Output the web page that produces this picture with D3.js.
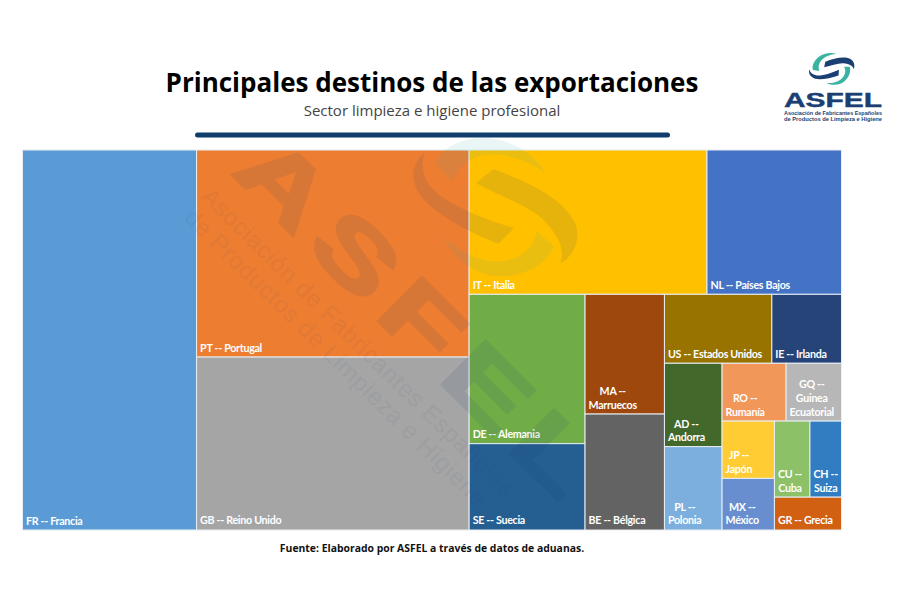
<!DOCTYPE html>
<html lang="es">
<head>
<meta charset="utf-8">
<title>Principales destinos de las exportaciones</title>
<script src="https://cdn.jsdelivr.net/npm/d3@7"></script>
<style>
  html, body { margin: 0; padding: 0; background: #fff; }
  svg { display: block; }
  .title { font: 700 26px "Open Sans", sans-serif; fill: #000; text-anchor: middle; }
  .subtitle { font: 400 15px "Open Sans", sans-serif; fill: #444; text-anchor: middle; }
  .source { font: 700 10.4px "Open Sans", sans-serif; fill: #111; text-anchor: middle; }
  .label { font: 700 10.7px Lato, sans-serif; letter-spacing: -0.3px; fill: #fff; }
  .tile { stroke: #e8eef4; stroke-width: 1; }
</style>
</head>
<body>
<div id="chart"></div>
<script>
// Values (relative size of each tile)
const codes = ['FR', 'PT', 'GB', 'IT', 'NL', 'DE', 'SE', 'MA', 'BE', 'US', 'IE', 'AD', 'PL', 'RO', 'GQ', 'JP', 'MX', 'CU', 'CH', 'GR']
const values = [661, 564, 471, 343, 194, 173, 100, 95, 92, 74, 48, 48, 48, 37, 32, 30, 27, 27, 24, 22]
const labels = [
  ['FR -- Francia'], ['PT -- Portugal'], ['GB -- Reino Unido'], ['IT -- Italia'], ['NL -- Países Bajos'],
  ['DE -- Alemania'], ['SE -- Suecia'], ['MA --', 'Marruecos'], ['BE -- Bélgica'], ['US -- Estados Unidos'],
  ['IE -- Irlanda'], ['AD --', 'Andorra'], ['PL --', 'Polonia'], ['RO --', 'Rumanía'], ['GQ --', 'Guinea', 'Ecuatorial'],
  ['JP --', 'Japón'], ['MX --', 'México'], ['CU --', 'Cuba'], ['CH --', 'Suiza'], ['GR -- Grecia']
]
const colors = ['#5b9bd5', '#ed7d31', '#a5a5a5', '#ffc000', '#4472c4', '#70ad47', '#255e91', '#9e480e', '#636363', '#997300',
  '#264478', '#43682b', '#7cafdd', '#f1975a', '#b7b7b7', '#ffcd33', '#698ed0', '#8cc168', '#327dc2', '#d26012']

// How Excel grouped the tiles: each level splits the other way from its parent
const nesting = ['FR', ['PT', 'GB'], [['IT', 'NL'], [['DE', 'SE'], ['MA', 'BE'], [['US', 'IE'], [['AD', 'PL'], [['RO', 'GQ'], [['JP', 'MX'], [['CU', 'CH'], 'GR']]]]]]]]

const width = 900
const height = 600
const plot = { left: 22.5, top: 150, right: 841.5, bottom: 530 }
const navy = '#1b3f73'
const teal = '#3bb3a3'

const svg = d3.select('#chart').append('svg').attr('width', width).attr('height', height)

// Treemap
const root = d3.hierarchy(nesting, d => Array.isArray(d) ? d : null)
  .sum(d => Array.isArray(d) ? 0 : values[codes.indexOf(d)])

d3.treemap()
  .tile(d3.treemapSliceDice)
  .size([plot.right - plot.left, plot.bottom - plot.top])(root)

const cell = svg.append('g')
  .attr('transform', `translate(${plot.left},${plot.top})`)
  .selectAll('g')
  .data(root.leaves())
  .join('g')
  .attr('transform', d => `translate(${d.x0},${d.y0})`)

cell.append('rect')
  .attr('class', 'tile')
  .attr('width', d => d.x1 - d.x0)
  .attr('height', d => d.y1 - d.y0)
  .attr('fill', d => colors[codes.indexOf(d.data)])

// Labels sit bottom left, wrapped lines centred on the widest one
cell.each(function (d) {
  const lines = labels[codes.indexOf(d.data)]
  const text = d3.select(this).append('text')
    .attr('class', 'label')
    .attr('text-anchor', lines.length > 1 ? 'middle' : 'start')
  const spans = text.selectAll('tspan').data(lines).join('tspan')
    .attr('y', (l, i) => d.y1 - d.y0 - 5.5 - (lines.length - 1 - i) * 13.6)
    .text(l => l)
  let blockWidth = 0
  spans.each(function () { blockWidth = Math.max(blockWidth, this.getComputedTextLength()) })
  spans.attr('x', lines.length > 1 ? 3.5 + blockWidth / 2 : 3.5)
})

// Logo swoosh, drawn once and reused for the watermark and the corner logo
const swoosh = [
  { fill: teal, d: 'M-180,-135 C-155,-190 -85,-213 -25,-210 C55,-205 125,-155 150,-105 C105,-140 35,-165 -25,-160 C-75,-155 -110,-125 -130,-80 Z' },
  { fill: teal, d: 'M-155,85 C-125,155 -55,205 15,205 C95,205 155,165 177,115 L125,70 C120,125 65,160 5,160 C-55,160 -115,125 -155,85 Z' },
  { fill: navy, d: 'M-210,-167 C-245,-140 -260,-90 -225,-40 C-185,15 -85,70 10,107 L57,60 C-25,35 -135,-5 -185,-55 C-215,-85 -225,-125 -210,-167 Z' },
  { fill: navy, d: 'M-5,-117 L-57,-75 C15,-35 95,-10 145,35 C185,75 215,125 195,167 C235,145 260,95 240,45 C205,-30 95,-80 -5,-117 Z' }
]

function drawSwoosh (parent, transform, opacity) {
  parent.append('g')
    .attr('transform', transform)
    .attr('opacity', opacity)
    .selectAll('path')
    .data(swoosh)
    .join('path')
    .attr('d', d => d.d)
    .attr('fill', d => d.fill)
}

// Watermark over the whole treemap
const mark = svg.append('g').attr('pointer-events', 'none')
drawSwoosh(mark, 'translate(495,208) scale(0.3333)', 0.1)

mark.append('text')
  .attr('transform', 'translate(230,173) rotate(45) scale(1.42,1)')
  .attr('font-family', '"Liberation Sans", sans-serif')
  .attr('font-weight', 700)
  .attr('font-size', 90)
  .attr('letter-spacing', 8.4)
  .attr('fill', navy)
  .attr('stroke', navy)
  .attr('stroke-width', 2.5)
  .attr('opacity', 0.1)
  .text('ASFEL')

mark.selectAll('text.small')
  .data([
    { text: 'Asociación de Fabricantes Españoles', x: 200, y: 198 },
    { text: 'de Productos de Limpieza e Higiene', x: 183, y: 219 }
  ])
  .join('text')
  .attr('class', 'small')
  .attr('transform', d => `translate(${d.x},${d.y}) rotate(44.5)`)
  .attr('font-family', '"Liberation Sans", sans-serif')
  .attr('font-size', 24)
  .attr('letter-spacing', 0.8)
  .attr('fill', navy)
  .attr('opacity', 0.06)
  .text(d => d.text)

// Header
svg.append('text').attr('class', 'title').attr('x', 432).attr('y', 92).text('Principales destinos de las exportaciones')
svg.append('text').attr('class', 'subtitle').attr('x', 432).attr('y', 116).text('Sector limpieza e higiene profesional')
svg.append('rect')
  .attr('x', 195).attr('y', 132.5)
  .attr('width', 475).attr('height', 5).attr('rx', 2.5)
  .attr('fill', '#0f3d6e')

// Corner logo
drawSwoosh(svg, 'translate(832,69) rotate(-40) scale(0.085)', 1)

svg.append('text')
  .attr('x', 784).attr('y', 106.5)
  .attr('textLength', 98).attr('lengthAdjust', 'spacingAndGlyphs')
  .attr('font-family', '"Liberation Sans", sans-serif')
  .attr('font-weight', 700).attr('font-size', 19.5)
  .attr('fill', navy).attr('stroke', navy).attr('stroke-width', 0.4)
  .text('ASFEL')

svg.selectAll('text.logo-line')
  .data(['Asociación de Fabricantes Españoles', 'de Productos de Limpieza e Higiene'])
  .join('text')
  .attr('class', 'logo-line')
  .attr('x', 784).attr('y', (d, i) => 114.5 + i * 6.6)
  .attr('textLength', 98).attr('lengthAdjust', 'spacingAndGlyphs')
  .attr('font-family', '"Liberation Sans", sans-serif')
  .attr('font-weight', 700).attr('font-size', 5.4)
  .attr('fill', navy)
  .text(d => d)

// Source
svg.append('text').attr('class', 'source').attr('x', 432).attr('y', 552)
  .text('Fuente: Elaborado por ASFEL a través de datos de aduanas.')
</script>
</body>
</html>
